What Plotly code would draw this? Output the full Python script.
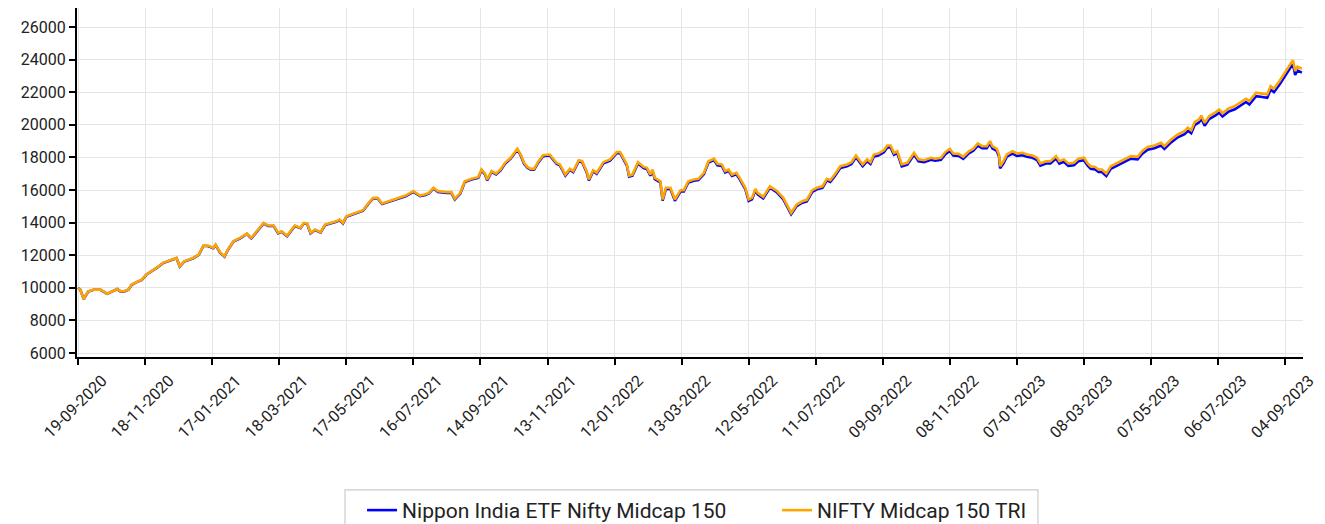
import plotly.graph_objects as go
from datetime import datetime

# ---- data ----
dates = [
    "2020-09-19", "2020-09-21", "2020-09-24", "2020-09-28",
    "2020-10-03", "2020-10-09", "2020-10-15", "2020-10-19", "2020-10-24", "2020-10-27", "2020-10-31",
    "2020-11-03", "2020-11-06", "2020-11-10", "2020-11-15", "2020-11-19", "2020-11-24", "2020-11-28",
    "2020-12-04", "2020-12-10", "2020-12-16", "2020-12-19", "2020-12-23", "2020-12-31",
    "2021-01-05", "2021-01-09", "2021-01-13", "2021-01-18", "2021-01-20", "2021-01-24", "2021-01-28", "2021-01-31",
    "2021-02-05", "2021-02-11", "2021-02-17", "2021-02-21", "2021-02-26",
    "2021-03-04", "2021-03-08", "2021-03-13", "2021-03-17", "2021-03-20", "2021-03-25",
    "2021-04-01", "2021-04-06", "2021-04-09", "2021-04-12", "2021-04-15", "2021-04-19", "2021-04-24", "2021-04-28",
    "2021-05-04", "2021-05-08", "2021-05-11", "2021-05-14", "2021-05-17", "2021-05-25",
    "2021-06-01", "2021-06-06", "2021-06-10", "2021-06-14", "2021-06-18", "2021-06-24",
    "2021-07-01", "2021-07-09", "2021-07-16", "2021-07-19", "2021-07-22", "2021-07-26", "2021-07-30",
    "2021-08-03", "2021-08-07", "2021-08-15", "2021-08-19", "2021-08-22", "2021-08-27", "2021-08-31",
    "2021-09-06", "2021-09-12", "2021-09-15", "2021-09-18", "2021-09-20", "2021-09-24", "2021-09-28",
    "2021-10-02", "2021-10-06", "2021-10-11", "2021-10-15", "2021-10-17", "2021-10-20", "2021-10-23", "2021-10-26", "2021-10-29",
    "2021-11-01", "2021-11-05", "2021-11-09", "2021-11-15", "2021-11-21", "2021-11-24", "2021-11-29",
    "2021-12-03", "2021-12-06", "2021-12-11", "2021-12-14", "2021-12-18", "2021-12-20", "2021-12-24", "2021-12-27",
    "2022-01-02", "2022-01-08", "2022-01-14", "2022-01-17", "2022-01-20", "2022-01-23", "2022-01-25", "2022-01-28",
    "2022-02-02", "2022-02-07", "2022-02-10", "2022-02-13", "2022-02-15", "2022-02-17", "2022-02-22", "2022-02-24", "2022-02-27",
    "2022-03-03", "2022-03-07", "2022-03-12", "2022-03-15", "2022-03-19", "2022-03-24", "2022-03-28",
    "2022-04-02", "2022-04-06", "2022-04-11", "2022-04-14", "2022-04-18", "2022-04-21", "2022-04-24", "2022-04-27",
    "2022-05-01", "2022-05-04", "2022-05-09", "2022-05-12", "2022-05-15", "2022-05-18", "2022-05-20", "2022-05-25", "2022-05-31",
    "2022-06-06", "2022-06-12", "2022-06-17", "2022-06-19", "2022-06-24", "2022-06-29",
    "2022-07-03", "2022-07-08", "2022-07-12", "2022-07-17", "2022-07-21", "2022-07-24", "2022-07-28",
    "2022-08-02", "2022-08-08", "2022-08-12", "2022-08-16", "2022-08-19", "2022-08-22", "2022-08-26", "2022-08-29",
    "2022-09-01", "2022-09-05", "2022-09-10", "2022-09-13", "2022-09-16", "2022-09-19", "2022-09-22", "2022-09-26",
    "2022-10-01", "2022-10-07", "2022-10-11", "2022-10-16", "2022-10-22", "2022-10-26", "2022-10-31",
    "2022-11-04", "2022-11-08", "2022-11-11", "2022-11-16", "2022-11-20", "2022-11-25", "2022-11-29",
    "2022-12-03", "2022-12-07", "2022-12-11", "2022-12-14", "2022-12-16", "2022-12-20", "2022-12-22", "2022-12-23", "2022-12-26", "2022-12-29",
    "2023-01-03", "2023-01-07", "2023-01-12", "2023-01-16", "2023-01-21", "2023-01-25", "2023-01-28",
    "2023-02-02", "2023-02-06", "2023-02-11", "2023-02-14", "2023-02-18", "2023-02-22", "2023-02-27",
    "2023-03-03", "2023-03-08", "2023-03-11", "2023-03-14", "2023-03-18", "2023-03-21", "2023-03-24", "2023-03-28",
    "2023-04-01", "2023-04-07", "2023-04-13", "2023-04-19", "2023-04-25", "2023-04-29",
    "2023-05-04", "2023-05-10", "2023-05-16", "2023-05-19", "2023-05-25", "2023-05-31",
    "2023-06-06", "2023-06-09", "2023-06-12", "2023-06-15", "2023-06-19", "2023-06-21", "2023-06-24", "2023-06-28",
    "2023-07-04", "2023-07-07", "2023-07-10", "2023-07-15", "2023-07-21", "2023-07-27", "2023-07-31",
    "2023-08-03", "2023-08-09", "2023-08-13", "2023-08-19", "2023-08-22", "2023-08-25", "2023-08-30",
    "2023-09-03", "2023-09-06", "2023-09-09", "2023-09-11", "2023-09-13", "2023-09-15", "2023-09-19",
]

nifty_tri = [
    10000, 9880, 9310, 9780,
    9890, 9890, 9640, 9760, 9930, 9780, 9800,
    9890, 10200, 10340, 10500, 10810, 11010, 11220,
    11530, 11690, 11830, 11320, 11630, 11830,
    12040, 12590, 12590, 12450, 12650, 12180, 11930, 12340,
    12860, 13060, 13330, 13060, 13470,
    13980, 13820, 13820, 13370, 13470, 13200,
    13820, 13680, 13980, 13940, 13370, 13570, 13410, 13880,
    13980, 14080, 14190, 13980, 14390, 14600,
    14760, 15210, 15520, 15520, 15170, 15310,
    15460, 15660, 15930, 15800, 15660, 15720, 15830,
    16140, 15930, 15870, 15870, 15460, 15830, 16540,
    16690, 16790, 17260, 17010, 16650, 17160, 17010,
    17260, 17670, 17980, 18380, 18530, 18180, 17670, 17420, 17300,
    17300, 17770, 18140, 18180, 17670, 17570, 16950,
    17300, 17160, 17830, 17770, 17160, 16650, 17220, 17060,
    17710, 17880, 18330, 18330, 17980, 17570, 16890, 16950,
    17710, 17420, 17360, 16950, 17260, 16750, 16540, 15420, 16140,
    16140, 15420, 15990, 15990, 16540, 16650, 16690,
    17060, 17770, 17920, 17610, 17570, 17160, 17260, 16950,
    17060, 16750, 16140, 15420, 15520, 16070, 15830, 15580, 16230,
    15960, 15520, 14900, 14600, 15110, 15310,
    15400, 15990, 16140, 16230, 16690, 16600, 16950,
    17460, 17570, 17710, 18120, 17830, 17570, 17880, 17710,
    18180, 18240, 18440, 18730, 18730, 18280, 18380, 17570,
    17670, 18280, 17880, 17830, 17980, 17920, 17980,
    18330, 18530, 18240, 18220, 18040, 18380, 18530,
    18860, 18690, 18690, 19000, 18690, 18530, 18180, 17460, 17770, 18180,
    18380, 18240, 18280, 18180, 18120, 17980, 17630,
    17770, 17770, 18080, 17770, 17880, 17630, 17670,
    17920, 17980, 17670, 17450, 17420, 17260, 17260, 17010,
    17460, 17670, 17830, 18080, 18040, 18380,
    18650, 18730, 18900, 18690, 19100, 19410,
    19610, 19820, 19670, 20160, 20330, 20570, 20120, 20530,
    20780, 20940, 20700, 20990, 21150, 21400, 21600,
    21460, 21970, 21930, 21870, 22380, 22220, 22690,
    23100, 23440, 23710, 23970, 23300, 23570, 23440,
]

nippon_etf = [
    10000, 9875, 9305, 9770,
    9880, 9880, 9630, 9750, 9920, 9770, 9790,
    9880, 10190, 10330, 10490, 10800, 11000, 11205,
    11515, 11675, 11815, 11305, 11615, 11815,
    12020, 12570, 12570, 12430, 12630, 12160, 11910, 12320,
    12840, 13040, 13305, 13035, 13445,
    13955, 13795, 13795, 13345, 13445, 13175,
    13795, 13655, 13955, 13915, 13345, 13545, 13385, 13855,
    13950, 14050, 14160, 13950, 14360, 14570,
    14730, 15180, 15490, 15490, 15140, 15280,
    15420, 15620, 15890, 15760, 15620, 15680, 15790,
    16095, 15885, 15825, 15825, 15415, 15785, 16490,
    16640, 16740, 17210, 16960, 16600, 17110, 16960,
    17205, 17615, 17925, 18325, 18475, 18125, 17615, 17365, 17245,
    17245, 17710, 18080, 18120, 17610, 17510, 16890,
    17240, 17100, 17770, 17710, 17100, 16590, 17160, 17000,
    17640, 17810, 18260, 18260, 17910, 17500, 16820, 16880,
    17635, 17345, 17285, 16875, 17185, 16675, 16465, 15345, 16065,
    16060, 15340, 15910, 15910, 16460, 16570, 16610,
    16975, 17685, 17835, 17525, 17485, 17075, 17175, 16865,
    16970, 16660, 16050, 15330, 15430, 15980, 15740, 15490, 16140,
    15870, 15430, 14810, 14510, 15020, 15220,
    15305, 15895, 16045, 16135, 16590, 16500, 16850,
    17355, 17465, 17605, 18010, 17720, 17460, 17770, 17600,
    18065, 18125, 18325, 18615, 18615, 18165, 18265, 17455,
    17555, 18160, 17760, 17710, 17860, 17800, 17860,
    18205, 18405, 18115, 18095, 17915, 18255, 18405,
    18730, 18560, 18560, 18870, 18560, 18400, 18050, 17330, 17640, 18050,
    18240, 18100, 18140, 18040, 17980, 17840, 17490,
    17625, 17625, 17935, 17625, 17735, 17485, 17520,
    17770, 17830, 17520, 17300, 17270, 17110, 17110, 16860,
    17305, 17515, 17675, 17925, 17885, 18220,
    18480, 18560, 18730, 18520, 18925, 19235,
    19430, 19640, 19490, 19980, 20150, 20390, 19940, 20350,
    20590, 20750, 20510, 20795, 20955, 21200, 21400,
    21250, 21760, 21720, 21655, 22165, 22005, 22470,
    22875, 23210, 23480, 23740, 23065, 23330, 23200,
]

tick_labels = [
    "19-09-2020", "18-11-2020", "17-01-2021", "18-03-2021", "17-05-2021",
    "16-07-2021", "14-09-2021", "13-11-2021", "12-01-2022", "13-03-2022",
    "12-05-2022", "11-07-2022", "09-09-2022", "08-11-2022", "07-01-2023",
    "08-03-2023", "07-05-2023", "06-07-2023", "04-09-2023",
]
y_ticks = [6000, 8000, 10000, 12000, 14000, 16000, 18000, 20000, 22000, 24000, 26000]

series_names = ["Nippon India ETF Nifty Midcap 150", "NIFTY Midcap 150 TRI"]

# ---- figure ----
tick_vals = [datetime.strptime(t, "%d-%m-%Y").strftime("%Y-%m-%d") for t in tick_labels]

fig = go.Figure()
fig.add_trace(go.Scatter(x=dates, y=nippon_etf, mode="lines", name=series_names[0],
                         legend="legend",
                         line=dict(color="#0000ff", width=2.6)))
fig.add_trace(go.Scatter(x=dates, y=nifty_tri, mode="lines", name=series_names[1],
                         legend="legend2",
                         line=dict(color="#ffa500", width=2.6)))

axis_common = dict(
    showline=True, linecolor="black", linewidth=2,
    ticks="outside", ticklen=6, tickwidth=1.5, tickcolor="black",
    showgrid=True, gridcolor="#e5e5e5", gridwidth=1,
    zeroline=False, automargin=False,
    tickfont=dict(family="Roboto", size=16, color="#222222"),
)

legend_common = dict(orientation="h", xanchor="left", y=-0.381, yanchor="top",
                     borderwidth=0, bgcolor="rgba(0,0,0,0)",
                     font=dict(family="Roboto", size=21, color="#222222"))

fig.update_layout(
    width=1317, height=516,
    margin=dict(l=69, r=22, t=0, b=167, autoexpand=False),
    paper_bgcolor="white", plot_bgcolor="white",
    font=dict(family="Roboto", size=16, color="#222222"),
    xaxis=dict(type="date", range=["2020-09-18", "2023-09-20"],
               tickmode="array", tickvals=tick_vals, ticktext=tick_labels,
               tickangle=-45, ticklabelshift=24, **axis_common),
    yaxis=dict(range=[5755, 27170], tickmode="array", tickvals=y_ticks,
               ticktext=[str(v) for v in y_ticks], **axis_common),
    legend=dict(x=0.2325, **legend_common),
    legend2=dict(x=0.571, **legend_common),
    shapes=[dict(type="rect", xref="paper", yref="paper",
                 x0=0.2186, x1=0.7838, y0=-0.381, y1=-0.50,
                 line=dict(color="#cccccc", width=1.2), fillcolor="rgba(0,0,0,0)",
                 layer="below")],
    showlegend=True,
)

fig.write_html("out.html")
